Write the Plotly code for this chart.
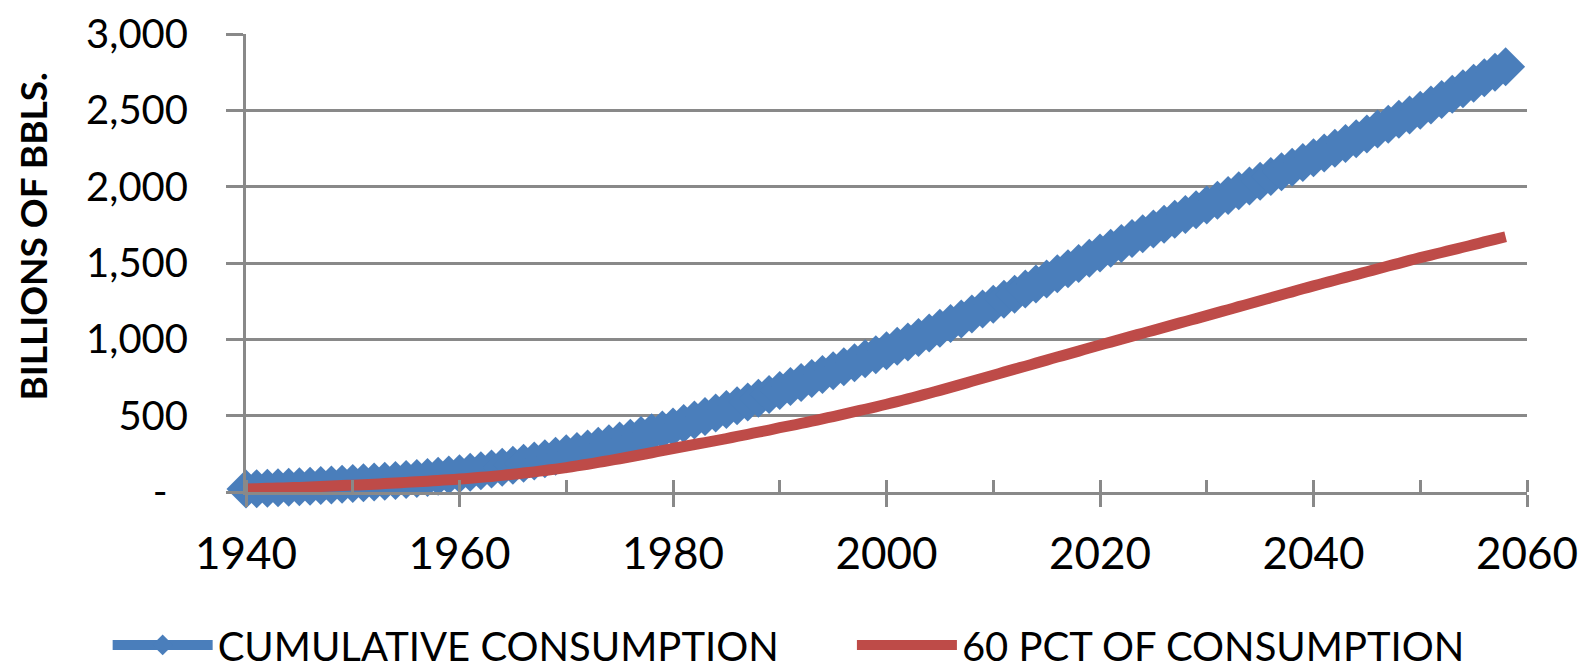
import plotly.graph_objects as go

years = list(range(1940, 2059))

cumulative_consumption = [
    20, 22, 25, 28, 31, 35, 38, 42, 46, 50,
    55, 60, 65, 70, 76, 82, 88, 95, 103, 111,
    120, 129, 139, 150, 162, 175, 189, 203, 218, 234,
    250, 266, 282, 299, 316, 334, 352, 370, 388, 406,
    425, 448, 471, 494, 517, 541, 565, 589, 614, 639,
    665, 691, 717, 743, 769, 795, 821, 847, 873, 899,
    926, 954, 983, 1012, 1042, 1072, 1103, 1134, 1166, 1198,
    1230, 1263, 1296, 1329, 1362, 1396, 1429, 1463, 1497, 1531,
    1565, 1597, 1628, 1660, 1691, 1723, 1754, 1786, 1817, 1849,
    1880, 1911, 1942, 1973, 2004, 2035, 2066, 2097, 2128, 2159,
    2190, 2221, 2252, 2283, 2314, 2345, 2377, 2409, 2441, 2470,
    2500, 2535, 2571, 2606, 2642, 2678, 2713, 2749, 2785,
]

pct60_consumption = [
    20, 22, 24, 26, 28, 30, 33, 36, 39, 42,
    45, 48, 51, 55, 59, 63, 67, 71, 76, 80,
    85, 90, 96, 102, 109, 116, 124, 132, 141, 150,
    160, 171, 182, 194, 206, 218, 231, 244, 257, 271,
    285, 298, 311, 324, 337, 350, 364, 378, 392, 406,
    421, 435, 449, 464, 479, 494, 510, 526, 542, 558,
    575, 592, 610, 628, 647, 666, 685, 705, 725, 745,
    765, 785, 805, 824, 844, 864, 884, 903, 923, 943,
    963, 982, 1001, 1021, 1040, 1059, 1078, 1098, 1117, 1136,
    1155, 1175, 1194, 1214, 1233, 1253, 1272, 1292, 1311, 1331,
    1350, 1369, 1387, 1406, 1424, 1443, 1461, 1480, 1498, 1517,
    1535, 1552, 1569, 1586, 1603, 1620, 1638, 1655, 1672,
]

y_tickvals = [0, 500, 1000, 1500, 2000, 2500, 3000]
y_ticktext = ["-\u00a0\u00a0", "500", "1,000", "1,500", "2,000", "2,500", "3,000"]
x_tickvals = [1940, 1960, 1980, 2000, 2020, 2040, 2060]

series_names = ["CUMULATIVE CONSUMPTION", "60 PCT OF CONSUMPTION"]
y_title = "BILLIONS OF BBLS."

BLUE = "#4a7ebb"
RED = "#be4b48"
GRAY = "#898989"
FONT = "Lato"

fig = go.Figure()
fig.add_trace(go.Scatter(
    x=years, y=cumulative_consumption, name=series_names[0],
    mode="lines+markers",
    line=dict(color=BLUE, width=11),
    marker=dict(symbol="diamond", size=30, color=BLUE, line=dict(width=0)),
    cliponaxis=False, legend="legend",
))
fig.add_trace(go.Scatter(
    x=years, y=pct60_consumption, name=series_names[1],
    mode="lines",
    line=dict(color=RED, width=11, shape="spline", smoothing=0.6),
    cliponaxis=False, legend="legend2",
))
# helper trace for inside part of major x ticks
fig.add_trace(go.Scatter(x=[1940], y=[None], xaxis="x2", showlegend=False, hoverinfo="skip"))

fig.update_layout(
    width=1579, height=672,
    margin=dict(l=246, r=52, t=34, b=180, autoexpand=False),
    plot_bgcolor="white", paper_bgcolor="white",
    font=dict(family=FONT, color="black"),
    xaxis=dict(
        range=[1940, 2060], tickvals=x_tickvals, ticks="outside", ticklen=12,
        tickwidth=3, tickcolor=GRAY, showline=True, linewidth=3, linecolor=GRAY,
        showgrid=False, zeroline=False, tickfont=dict(size=44, family=FONT),
        ticklabelstandoff=9,
        minor=dict(dtick=10, tick0=1940, ticks="inside", ticklen=12, tickwidth=3,
                   tickcolor=GRAY, showgrid=False),
    ),
    xaxis2=dict(
        overlaying="x", matches="x", anchor="y", side="bottom",
        range=[1940, 2060], tickvals=x_tickvals, ticks="inside", ticklen=12,
        tickwidth=3, tickcolor=GRAY, showticklabels=False, showgrid=False,
        showline=False, zeroline=False,
    ),
    yaxis=dict(
        range=[0, 3000], tickvals=y_tickvals, ticktext=y_ticktext,
        ticks="outside", ticklen=17, tickwidth=3, tickcolor=GRAY,
        showline=True, linewidth=3, linecolor=GRAY,
        showgrid=True, gridwidth=3, gridcolor=GRAY, zeroline=False,
        tickfont=dict(size=40, family=FONT), ticklabelstandoff=30,
    ),
    legend=dict(
        orientation="h", x=-0.108, xanchor="left", y=-0.334, yanchor="middle",
        font=dict(size=40, family=FONT), itemwidth=100, bgcolor="rgba(0,0,0,0)",
    ),
    legend2=dict(
        orientation="h", x=0.473, xanchor="left", y=-0.334, yanchor="middle",
        font=dict(size=40, family=FONT), itemwidth=100, bgcolor="rgba(0,0,0,0)",
    ),
    annotations=[dict(
        text="<b>" + y_title + "</b>", xref="paper", yref="paper",
        x=-0.1665, y=0.557, textangle=-90, showarrow=False,
        font=dict(size=37, family=FONT, color="black"),
        xanchor="center", yanchor="middle",
    )],
    showlegend=True,
)

fig.write_html(
    "out.html",
    config={"displayModeBar": False},
    post_script="document.body.style.margin='0px';document.body.style.overflow='hidden';",
)
